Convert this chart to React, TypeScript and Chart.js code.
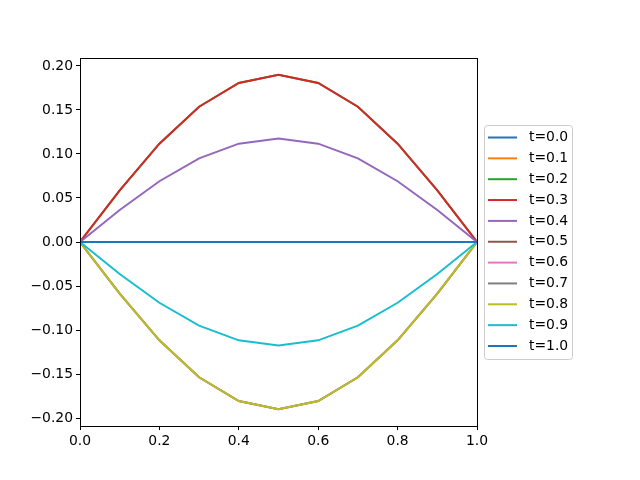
import React, { useEffect, useRef } from "react";
import { Chart, registerables } from "chart.js";

Chart.register(...registerables);

const X_VALUES = [0, 0.1, 0.2, 0.3, 0.4, 0.5, 0.6, 0.7, 0.8, 0.9, 1.0];
const LABELS = ["t=0.0", "t=0.1", "t=0.2", "t=0.3", "t=0.4", "t=0.5", "t=0.6", "t=0.7", "t=0.8", "t=0.9", "t=1.0"];
const COLORS = ["#1f77b4", "#ff7f0e", "#2ca02c", "#d62728", "#9467bd", "#8c564b", "#e377c2", "#7f7f7f", "#bcbd22", "#17becf", "#1f77b4"];

const ZERO = [0, 0, 0, 0, 0, 0, 0, 0, 0, 0, 0];
const POS_HIGH = [0, 0.0587, 0.1117, 0.1537, 0.1807, 0.19, 0.1807, 0.1537, 0.1117, 0.0587, 0];
const POS_MID = [0, 0.0363, 0.069, 0.095, 0.1117, 0.1175, 0.1117, 0.095, 0.069, 0.0363, 0];
const NEG_HIGH = [0, -0.0587, -0.1117, -0.1537, -0.1807, -0.19, -0.1807, -0.1537, -0.1117, -0.0587, 0];
const NEG_MID = [0, -0.0363, -0.069, -0.095, -0.1117, -0.1175, -0.1117, -0.095, -0.069, -0.0363, 0];

const SERIES = [ZERO, ZERO, POS_HIGH, POS_HIGH, POS_MID, ZERO, NEG_HIGH, NEG_HIGH, NEG_HIGH, NEG_MID, ZERO];

const X_TICKS = [0, 0.2, 0.4, 0.6, 0.8, 1.0];
const Y_TICKS = [-0.2, -0.15, -0.1, -0.05, 0, 0.05, 0.1, 0.15, 0.2];

const FONT = "'DejaVu Sans', sans-serif";

const framePlugin = {
  id: "frame",
  afterDatasetsDraw(chart: any) {
    const { ctx, chartArea } = chart;
    ctx.save();
    ctx.strokeStyle = "#000";
    ctx.lineWidth = 1;
    ctx.strokeRect(Math.round(chartArea.left) + 0.5, Math.round(chartArea.top) + 0.5,
      Math.round(chartArea.right - chartArea.left), Math.round(chartArea.bottom - chartArea.top));
    ctx.restore();
  },
};

const legendPlugin = {
  id: "mplLegend",
  afterDraw(chart: any) {
    const ctx = chart.ctx;
    const left = 484.5, top = 125.5, w = 88, h = 234, r = 3;
    ctx.save();
    ctx.beginPath();
    ctx.moveTo(left + r, top);
    ctx.lineTo(left + w - r, top);
    ctx.quadraticCurveTo(left + w, top, left + w, top + r);
    ctx.lineTo(left + w, top + h - r);
    ctx.quadraticCurveTo(left + w, top + h, left + w - r, top + h);
    ctx.lineTo(left + r, top + h);
    ctx.quadraticCurveTo(left, top + h, left, top + h - r);
    ctx.lineTo(left, top + r);
    ctx.quadraticCurveTo(left, top, left + r, top);
    ctx.closePath();
    ctx.fillStyle = "rgba(255,255,255,0.8)";
    ctx.fill();
    ctx.strokeStyle = "#cccccc";
    ctx.lineWidth = 1;
    ctx.stroke();
    ctx.font = `13.9px ${FONT}`;
    ctx.textBaseline = "middle";
    ctx.textAlign = "left";
    LABELS.forEach((lab, i) => {
      const y = 137.5 + i * 20.85;
      ctx.strokeStyle = COLORS[i];
      ctx.lineWidth = 2;
      ctx.beginPath();
      ctx.moveTo(488, y);
      ctx.lineTo(517, y);
      ctx.stroke();
      ctx.fillStyle = "#000";
      ctx.fillText(lab, 529, y);
    });
    ctx.restore();
  },
};

const fmtY = (v: number) => {
  const s = Math.abs(v).toFixed(2);
  return v < -1e-9 ? "\u2212" + s : s;
};

export default function App() {
  const ref = useRef<HTMLCanvasElement>(null);
  useEffect(() => {
    if (!ref.current) return;
    const chart = new Chart(ref.current, {
      type: "line",
      data: {
        datasets: SERIES.map((arr, i) => ({
          label: LABELS[i],
          data: arr.map((y, j) => ({ x: X_VALUES[j], y })),
          borderColor: COLORS[i],
          backgroundColor: COLORS[i],
          borderWidth: 2,
          pointRadius: 0,
          fill: false,
          tension: 0,
          order: SERIES.length - i,
        })),
      },
      options: {
        responsive: false,
        animation: false,
        devicePixelRatio: 1,
        layout: { padding: { top: 58, right: 163, left: 0, bottom: 0 } },
        plugins: { legend: { display: false }, tooltip: { enabled: false } },
        scales: {
          x: {
            type: "linear",
            min: 0,
            max: 1,
            afterFit: (s: any) => { s.height = 54; },
            afterBuildTicks: (s: any) => { s.ticks = X_TICKS.map((v) => ({ value: v })); },
            grid: { drawOnChartArea: false, drawTicks: true, tickLength: 4, color: "#000", tickWidth: 1 },
            border: { display: false },
            ticks: {
              color: "#000",
              padding: 3,
              maxRotation: 0,
              autoSkip: false,
              font: { family: FONT, size: 13.9 },
              callback: (v: any) => Number(v).toFixed(1),
            },
          },
          y: {
            type: "linear",
            min: -0.209,
            max: 0.209,
            afterFit: (s: any) => { s.width = 80; },
            afterBuildTicks: (s: any) => { s.ticks = Y_TICKS.map((v) => ({ value: v })); },
            grid: { drawOnChartArea: false, drawTicks: true, tickLength: 4, color: "#000", tickWidth: 1 },
            border: { display: false },
            ticks: {
              color: "#000",
              padding: 3,
              autoSkip: false,
              font: { family: FONT, size: 13.9 },
              callback: (v: any) => fmtY(Number(v)),
            },
          },
        },
      },
      plugins: [framePlugin, legendPlugin],
    } as any);
    return () => chart.destroy();
  }, []);
  return (
    <div style={{ position: "fixed", left: 0, top: 0, width: 640, height: 480, background: "#fff" }}>
      <canvas ref={ref} width={640} height={480} style={{ width: 640, height: 480, display: "block" }} />
    </div>
  );
}
